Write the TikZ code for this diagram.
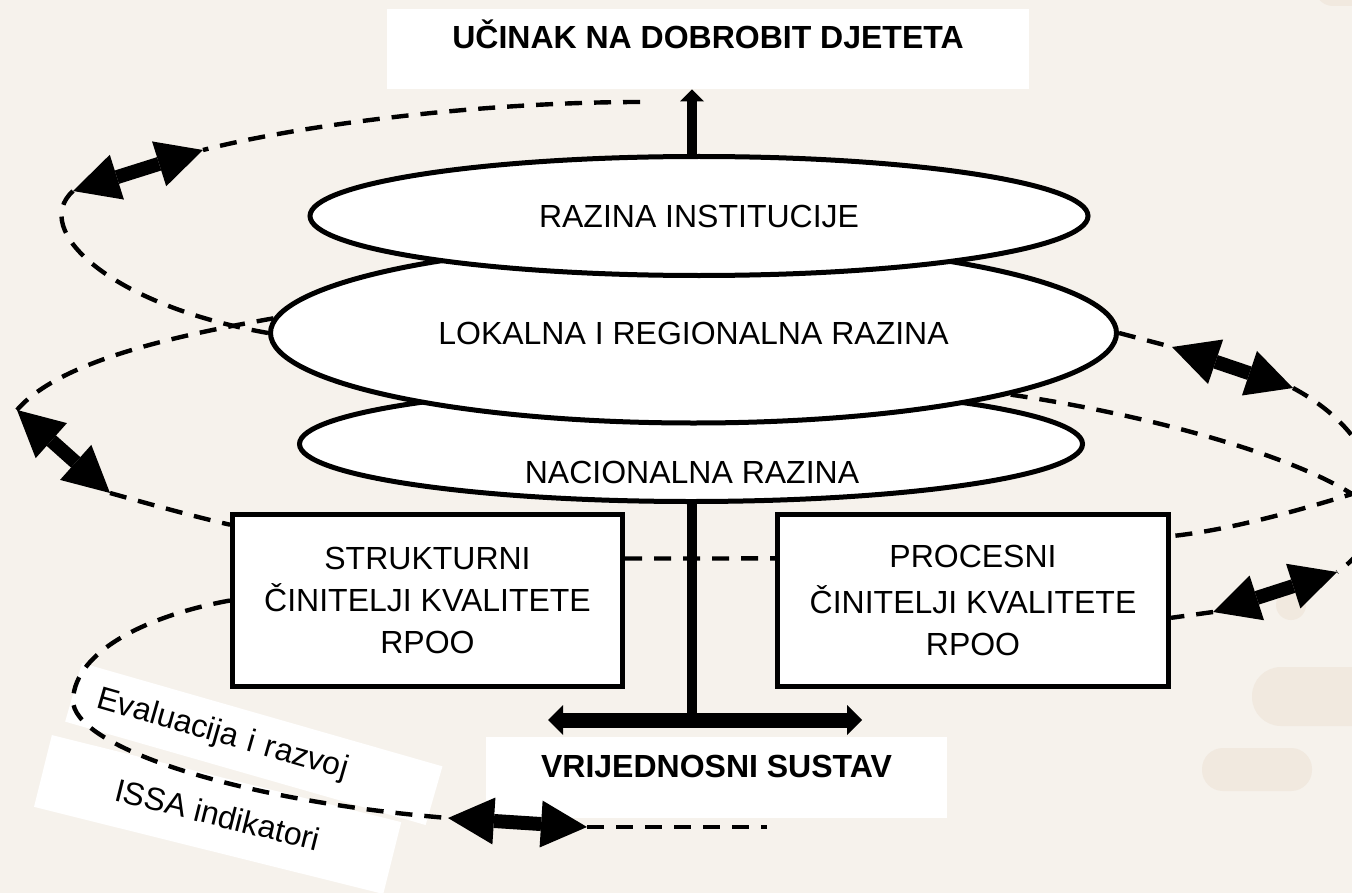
\documentclass[tikz,border=0pt]{standalone}
\usepackage{fontspec}
\setmainfont{Liberation Sans}
\usetikzlibrary{arrows.meta,shapes.geometric}
\definecolor{paper}{RGB}{246,242,236}
\definecolor{blob}{RGB}{241,233,223}
\newcommand\bodysize{\fontsize{16}{21}\selectfont}

\begin{document}
\begin{tikzpicture}[x=0.5pt,y=-0.5pt,
    tier/.style={ellipse,draw,fill=white,line width=2.5pt,inner sep=0pt,font=\bodysize},
    factor/.style={rectangle,draw,fill=white,line width=2.5pt,minimum height=86pt,align=center,font=\bodysize},
    plate/.style={rectangle,fill=white,inner sep=0pt,text height=11pt,text depth=11pt,font=\bodysize\bfseries},
    tagbox/.style={rectangle,fill=white,inner ysep=0pt,font=\bodysize},
    feedback/.style={line width=2.2pt,dash pattern=on 8.5pt off 6pt},
    twoway/.style={line width=7pt,{Triangle[width=23.5pt,length=23pt,line width=0pt]}-{Triangle[width=23.5pt,length=23pt,line width=0pt]}}]
      \useasboundingbox (0,0) rectangle (1352,893);
      \fill[paper] (0,0) rectangle (1352,893);
      \clip (0,0) rectangle (1352,893);
      \fill[blob,rounded corners=9pt] (1315,-40) rectangle (1400,6);
      \fill[blob,rounded corners=14.5pt] (1252,667) rectangle (1420,726);
      \fill[blob,rounded corners=10.5pt] (1202,748) rectangle (1312,791);
      \fill[blob] (1291,605) circle (7.5pt);

      \node[tagbox,rotate=-14,minimum width=180pt,minimum height=37pt] (issabox) at (217.6,814.5) {ISSA indikatori};
      \node[tagbox,rotate=-16,text width=162.5pt,inner xsep=12.5pt,minimum height=30.5pt,align=left] (evalbox) at (253.8,744) {Evaluacija i razvoj};

      \node[tier,minimum width=391.5pt,minimum height=57.5pt] (nac) at (691,444) {};
      \node[font=\bodysize] (nactext) at (692,472) {NACIONALNA RAZINA};
      \node[tier,minimum width=423pt,minimum height=90pt] (lokal) at (693.5,333) {LOKALNA I REGIONALNA RAZINA};
      \node[tier,minimum width=389pt,minimum height=59.5pt] (inst) at (699,216) {RAZINA INSTITUCIJE};

      \node[plate,minimum width=321pt,minimum height=40pt] (outcome) at (708,49) {UČINAK NA DOBROBIT DJETETA};
      \node[plate,minimum width=230.5pt,minimum height=40.5pt] (values) at (716.5,777.5) {VRIJEDNOSNI SUSTAV};
      \node[factor,minimum width=195pt] (struk) at (427.5,600.5) {STRUKTURNI\\ČINITELJI KVALITETE\\RPOO};
      \node[factor,minimum width=195.5pt] (proc) at (973,600.5) {PROCESNI\\[2pt]ČINITELJI KVALITETE\\RPOO};

      \coordinate (spine) at (692,0);
      \coordinate (hub) at (692,720);
      \coordinate (vleft) at (548,720);
      \coordinate (vright) at (862,720);
      \coordinate (topend) at (640,102);
      \coordinate (nw1) at (203,150);
      \coordinate (nw2) at (73,191);
      \coordinate (w1) at (17,410);
      \coordinate (w2) at (110,493);
      \coordinate (sw0) at (73,700);
      \coordinate (sw1) at (448,818);
      \coordinate (sw2) at (587,827);
      \coordinate (swend) at (767,827);
      \coordinate (ne1) at (1172,347);
      \coordinate (ne2) at (1293,388);
      \coordinate (se1) at (1337,572);
      \coordinate (se2) at (1213,612);
      \coordinate (eturn) at (1352,494);

      \draw[feedback] (topend) .. controls (480,102) and (300,125) .. (nw1);
      \draw[feedback] (nw2) .. controls (30,230) and (110,305) .. (lokal.west);
      \draw[feedback] (lokal.178) .. controls (180,335) and (60,360) .. (w1);
      \draw[feedback] (w2) .. controls (160,507) and (200,518) .. (struk.159);
      \draw[feedback] (struk.west) .. controls (150,615) and (75,650) .. (sw0) .. controls (72,745) and (230,800) .. (sw1);
      \draw[feedback] (sw2) -- (swend);
      \draw[feedback] (lokal.east) -- (ne1);
      \draw[feedback] (ne2) .. controls (1390,440) and (1400,530) .. (se1);
      \draw[feedback] (se2) -- (proc.-5);
      \draw[feedback] (lokal.-11) .. controls (1150,415) and (1290,455) .. (eturn) .. controls (1300,510) and (1230,530) .. (proc.18);
      \draw[feedback] (struk.12) -- (proc.168);

      \draw[line width=5pt,-{Triangle[width=12pt,length=6pt,line width=0pt]}] (spine |- inst.north) -- (spine |- outcome.south);
      \draw[line width=5pt] (spine |- nac.south) -- (hub);
      \draw[line width=7.5pt,{Triangle[width=15pt,length=7.5pt,line width=0pt]}-{Triangle[width=15pt,length=7.5pt,line width=0pt]}] (vleft) -- (vright);

      \draw[twoway] (nw1) -- (nw2);
      \draw[twoway] (w1) -- (w2);
      \draw[twoway] (sw1) -- (sw2);
      \draw[twoway] (ne1) -- (ne2);
      \draw[twoway] (se1) -- (se2);
    \end{tikzpicture}
\end{document}
